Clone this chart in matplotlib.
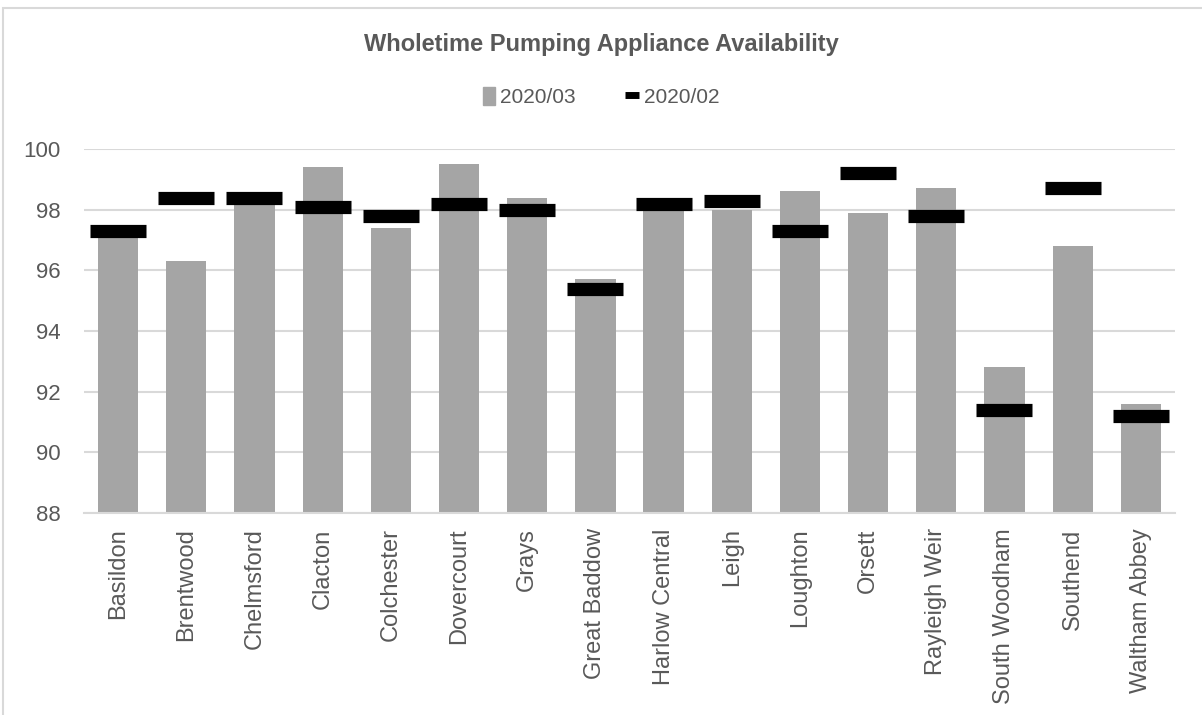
import matplotlib
matplotlib.use("Agg")
from matplotlib import pyplot as plt
from matplotlib.patches import Patch, Rectangle
from matplotlib.lines import Line2D

# station names and availability figures (%)
stations = ["Basildon", "Brentwood", "Chelmsford", "Clacton", "Colchester",
            "Dovercourt", "Grays", "Great Baddow", "Harlow Central", "Leigh",
            "Loughton", "Orsett", "Rayleigh Weir", "South Woodham", "Southend",
            "Waltham Abbey"]
march = [97.5, 96.3, 98.3, 99.4, 97.4, 99.5, 98.4, 95.7, 98.4, 98.0,
         98.6, 97.9, 98.7, 92.8, 96.8, 91.6]
february = [97.3, 98.4, 98.4, 98.1, 97.8, 98.2, 98.0, 95.4, 98.2, 98.3,
            97.3, 99.2, 97.8, 91.4, 98.7, 91.2]
yticks = [88, 90, 92, 94, 96, 98, 100]

plt.rcParams['font.family'] = ['Liberation Sans', 'DejaVu Sans']
text_col = '#595959'
grid_col = '#D9D9D9'

fig = plt.figure(figsize = (12.02, 7.15), dpi = 100)
ax = fig.add_axes([0.0699, 0.2825, 0.9076, 0.5091])

x = list(range(len(stations)))
ax.bar(x, march, width = 0.59, color = '#A5A5A5', zorder = 2)
ax.plot(x, february, linestyle = 'none', marker = '_', color = 'black',
        markersize = 40, markeredgewidth = 9.5, zorder = 3)

ax.set_ylim(88, 100)
ax.set_xlim(-0.5, len(stations) - 0.5)
ax.set_yticks(yticks)
ax.set_xticks(x)
ax.set_xticklabels(stations, rotation = 90)
ax.tick_params(axis = 'y', length = 0, pad = 17, labelsize = 16, labelcolor = text_col)
ax.tick_params(axis = 'x', length = 0, pad = 11, labelsize = 17, labelcolor = text_col)
ax.grid(axis = 'y', color = grid_col, linewidth = 1.5, zorder = 0)
ax.set_axisbelow(True)
for side in ['top', 'right', 'left']:
    ax.spines[side].set_visible(False)
ax.spines['bottom'].set_color(grid_col)
ax.spines['bottom'].set_linewidth(1.5)

fig.text(0.5, 1 - 45 / 715, "Wholetime Pumping Appliance Availability",
         ha = 'center', va = 'center', fontsize = 17, fontweight = 'bold', color = text_col)

handles = [Patch(color = '#A5A5A5', label = '2020/03'),
           Line2D([], [], linestyle = 'none', marker = '_', color = 'black',
                  markersize = 10, markeredgewidth = 5, label = '2020/02')]
fig.legend(handles = handles, loc = 'center', bbox_to_anchor = (0.5, 1 - 97 / 715),
           ncol = 2, frameon = False, fontsize = 15, labelcolor = text_col,
           handlelength = 0.6, handleheight = 1.0, handletextpad = 0.25, columnspacing = 2.4)

# light frame around the chart
fig.patches.append(Rectangle((3 / 1202, -0.01), 1.2, 1 - 8 / 715 + 0.01,
                             transform = fig.transFigure, fill = False,
                             edgecolor = grid_col, linewidth = 1.5))

fig.savefig('out.png', dpi = 100)
